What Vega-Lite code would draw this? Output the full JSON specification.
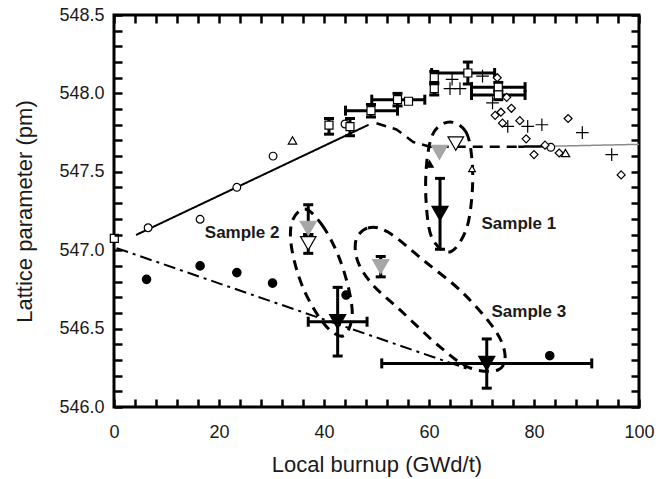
{
  "$schema": "https://vega.github.io/schema/vega-lite/v6.json",
  "width": 525,
  "height": 392,
  "autosize": {"type": "none"},
  "padding": {"left": 114, "top": 15, "right": 33, "bottom": 72},
  "background": "white",
  "config": {
    "view": {"stroke": "black", "strokeWidth": 3},
    "axis": {
      "domainColor": "black", "domainWidth": 3, "grid": false, "labelFlush": false,
      "labelFont": "Liberation Sans", "labelFontSize": 18, "labelColor": "#1a1a1a",
      "titleFont": "Liberation Sans", "titleFontSize": 22, "titleFontWeight": "normal", "titleColor": "#1a1a1a"
    }
  },
  "datasets": {
    "lines": [
      {"line": "solid", "x": 4.2, "y": 547.097},
      {"line": "solid", "x": 48.5, "y": 547.80},
      {"line": "dashed", "x": 50.0, "y": 547.81},
      {"line": "dashed", "x": 53.8, "y": 547.77},
      {"line": "dashed", "x": 57.0, "y": 547.69},
      {"line": "dashed", "x": 60.2, "y": 547.66},
      {"line": "dashed", "x": 77.0, "y": 547.66},
      {"line": "solidb", "x": 77.0, "y": 547.66},
      {"line": "solidb", "x": 83.0, "y": 547.663},
      {"line": "gray", "x": 83.0, "y": 547.663},
      {"line": "gray", "x": 100.0, "y": 547.675},
      {"line": "dashdot", "x": 0.5, "y": 547.013},
      {"line": "dashdot", "x": 68.0, "y": 546.236}
    ],
    "ellipses": [
      {"e": "s1", "i": 0, "x": 64.0, "y": 547.818},
      {"e": "s1", "i": 1, "x": 67.05, "y": 547.754},
      {"e": "s1", "i": 2, "x": 68.19, "y": 547.576},
      {"e": "s1", "i": 3, "x": 68.19, "y": 547.352},
      {"e": "s1", "i": 4, "x": 67.05, "y": 547.129},
      {"e": "s1", "i": 5, "x": 64.0, "y": 546.989},
      {"e": "s1", "i": 6, "x": 60.57, "y": 547.078},
      {"e": "s1", "i": 7, "x": 59.43, "y": 547.32},
      {"e": "s1", "i": 8, "x": 59.62, "y": 547.575},
      {"e": "s1", "i": 9, "x": 60.95, "y": 547.754},
      {"e": "s2", "i": 0, "x": 36.38, "y": 547.263},
      {"e": "s2", "i": 1, "x": 39.62, "y": 547.161},
      {"e": "s2", "i": 2, "x": 42.67, "y": 546.97},
      {"e": "s2", "i": 3, "x": 44.76, "y": 546.746},
      {"e": "s2", "i": 4, "x": 45.33, "y": 546.568},
      {"e": "s2", "i": 5, "x": 43.62, "y": 546.453},
      {"e": "s2", "i": 6, "x": 40.19, "y": 546.523},
      {"e": "s2", "i": 7, "x": 36.19, "y": 546.746},
      {"e": "s2", "i": 8, "x": 33.9, "y": 547.001},
      {"e": "s2", "i": 9, "x": 33.9, "y": 547.18},
      {"e": "s3", "i": 0, "x": 46.1, "y": 547.065},
      {"e": "s3", "i": 1, "x": 48.38, "y": 547.142},
      {"e": "s3", "i": 2, "x": 52.19, "y": 547.116},
      {"e": "s3", "i": 3, "x": 58.86, "y": 546.938},
      {"e": "s3", "i": 4, "x": 66.48, "y": 546.727},
      {"e": "s3", "i": 5, "x": 72.57, "y": 546.491},
      {"e": "s3", "i": 6, "x": 74.48, "y": 546.332},
      {"e": "s3", "i": 7, "x": 73.14, "y": 546.236},
      {"e": "s3", "i": 8, "x": 67.81, "y": 546.249},
      {"e": "s3", "i": 9, "x": 62.1, "y": 546.383},
      {"e": "s3", "i": 10, "x": 54.48, "y": 546.619},
      {"e": "s3", "i": 11, "x": 49.33, "y": 546.778},
      {"e": "s3", "i": 12, "x": 46.48, "y": 546.925}
    ],
    "ye": [
      {"x": 40.95, "lo": 547.74, "hi": 547.84},
      {"x": 44.95, "lo": 547.73, "hi": 547.84},
      {"x": 48.95, "lo": 547.85, "hi": 547.93},
      {"x": 54.0, "lo": 547.92, "hi": 548.0},
      {"x": 61.0, "lo": 548.06, "hi": 548.14},
      {"x": 61.0, "lo": 547.99, "hi": 548.07},
      {"x": 67.4, "lo": 548.06, "hi": 548.2},
      {"x": 73.2, "lo": 548.01, "hi": 548.07},
      {"x": 73.2, "lo": 547.96, "hi": 548.02},
      {"x": 42.6, "lo": 546.325, "hi": 546.763},
      {"x": 71.0, "lo": 546.12, "hi": 546.434},
      {"x": 62.1, "lo": 547.006, "hi": 547.458},
      {"x": 37.0, "lo": 547.1, "hi": 547.29},
      {"x": 37.0, "lo": 546.98, "hi": 547.1},
      {"x": 50.8, "lo": 546.83, "hi": 546.96}
    ],
    "xe": [
      {"y": 547.89, "lo": 44.1, "hi": 54.0},
      {"y": 547.96, "lo": 49.1, "hi": 59.2},
      {"y": 548.13, "lo": 60.5, "hi": 72.5},
      {"y": 548.04, "lo": 68.1, "hi": 78.3},
      {"y": 547.99, "lo": 68.1, "hi": 78.3},
      {"y": 546.544, "lo": 37.0, "hi": 48.2},
      {"y": 546.278, "lo": 51.0, "hi": 91.0}
    ],
    "points": [
      {"type": "circle_open", "x": 6.5, "y": 547.143},
      {"type": "circle_open", "x": 16.4, "y": 547.197},
      {"type": "circle_open", "x": 23.4, "y": 547.401},
      {"type": "circle_open", "x": 30.3, "y": 547.6},
      {"type": "circle_open", "x": 44.0, "y": 547.805},
      {"type": "circle_open", "x": 83.2, "y": 547.656},
      {"type": "tri_open", "x": 34.0, "y": 547.7},
      {"type": "tri_open", "x": 86.0, "y": 547.62},
      {"type": "arrow_open", "x": 68.2, "y": 547.52},
      {"type": "arrow_black", "x": 60.1, "y": 547.55},
      {"type": "square_open", "x": 0.06, "y": 547.076},
      {"type": "square_open", "x": 40.95, "y": 547.798},
      {"type": "square_open", "x": 44.95, "y": 547.788},
      {"type": "square_open", "x": 48.95, "y": 547.89},
      {"type": "square_open", "x": 54.0, "y": 547.96},
      {"type": "square_open", "x": 56.1, "y": 547.95},
      {"type": "square_open", "x": 61.0, "y": 548.1},
      {"type": "square_open", "x": 61.0, "y": 548.03},
      {"type": "square_open", "x": 67.4, "y": 548.13},
      {"type": "square_open", "x": 73.2, "y": 548.04},
      {"type": "square_open", "x": 73.2, "y": 547.99},
      {"type": "diamond_open", "x": 73.0, "y": 548.1},
      {"type": "diamond_open", "x": 74.8, "y": 547.975},
      {"type": "diamond_open", "x": 75.7, "y": 547.905},
      {"type": "diamond_open", "x": 72.6, "y": 547.86},
      {"type": "diamond_open", "x": 73.7, "y": 547.88},
      {"type": "diamond_open", "x": 74.0, "y": 547.81},
      {"type": "diamond_open", "x": 77.3, "y": 547.826},
      {"type": "diamond_open", "x": 78.5, "y": 547.71},
      {"type": "diamond_open", "x": 86.5, "y": 547.84},
      {"type": "diamond_open", "x": 80.0, "y": 547.61},
      {"type": "diamond_open", "x": 82.1, "y": 547.67},
      {"type": "diamond_open", "x": 84.8, "y": 547.62},
      {"type": "diamond_open", "x": 96.6, "y": 547.48},
      {"type": "plus", "x": 64.4, "y": 548.09},
      {"type": "plus", "x": 64.0, "y": 548.03},
      {"type": "plus", "x": 65.9, "y": 548.03},
      {"type": "plus", "x": 70.2, "y": 548.11},
      {"type": "plus", "x": 72.1, "y": 547.94},
      {"type": "plus", "x": 75.0, "y": 547.79},
      {"type": "plus", "x": 78.8, "y": 547.79},
      {"type": "plus", "x": 81.5, "y": 547.8},
      {"type": "plus", "x": 89.2, "y": 547.75},
      {"type": "plus", "x": 94.8, "y": 547.61},
      {"type": "circle_filled", "x": 6.2, "y": 546.814},
      {"type": "circle_filled", "x": 16.4, "y": 546.9},
      {"type": "circle_filled", "x": 23.4, "y": 546.857},
      {"type": "circle_filled", "x": 30.2, "y": 546.79},
      {"type": "circle_filled", "x": 44.2, "y": 546.714},
      {"type": "circle_filled", "x": 83.0, "y": 546.327},
      {"type": "tri_down_black", "x": 42.6, "y": 546.544},
      {"type": "tri_down_black", "x": 71.0, "y": 546.278},
      {"type": "tri_down_black", "x": 62.1, "y": 547.235},
      {"type": "tri_down_gray", "x": 62.0, "y": 547.624},
      {"type": "tri_down_gray", "x": 37.0, "y": 547.14},
      {"type": "tri_down_gray", "x": 50.8, "y": 546.895},
      {"type": "tri_down_open", "x": 65.1, "y": 547.68},
      {"type": "tri_down_open", "x": 37.0, "y": 547.044}
    ],
    "labels": [
      {"x": 70.0, "y": 547.167, "label": "Sample 1"},
      {"x": 17.3, "y": 547.108, "label": "Sample 2"},
      {"x": 71.9, "y": 546.608, "label": "Sample 3"}
    ]
  },
  "resolve": {"axis": {"x": "independent", "y": "independent"}},
  "layer": [
    {
      "data": {"name": "lines"},
      "mark": {"type": "line"},
      "encoding": {
        "x": {"field": "x", "type": "quantitative", "scale": {"domain": [0, 100], "nice": false, "zero": false},
          "axis": {"orient": "bottom", "offset": -8, "zindex": 2, "values": [0, 4, 8, 12, 16, 20, 24, 28, 32, 36, 40, 44, 48, 52, 56, 60, 64, 68, 72, 76, 80, 84, 88, 92, 96, 100], "labelExpr": "datum.value % 20 === 0 ? datum.label : ''", "ticks": true, "tickColor": "black", "tickSize": 8, "tickWidth": 2.5, "domain": false, "labelPadding": 16, "title": "Local burnup (GWd/t)", "titlePadding": 13}},
        "y": {"field": "y", "type": "quantitative", "scale": {"domain": [546, 548.5], "nice": false, "zero": false},
          "axis": {"orient": "left", "offset": -8, "zindex": 2, "values": [546, 546.1, 546.2, 546.3, 546.4, 546.5, 546.6, 546.7, 546.8, 546.9, 547, 547.1, 547.2, 547.3, 547.4, 547.5, 547.6, 547.7, 547.8, 547.9, 548, 548.1, 548.2, 548.3, 548.4, 548.5], "format": ".1f", "labelExpr": "abs(datum.value * 2 - round(datum.value * 2)) < 0.001 ? datum.label : ''", "ticks": true, "tickColor": "black", "tickSize": 8, "tickWidth": 2.5, "domain": false, "labelPadding": 10, "title": "Lattice parameter (pm)", "titlePadding": 22}},
        "detail": {"field": "line"},
        "color": {"field": "line", "type": "nominal", "legend": null, "scale": {"domain": ["solid", "dashed", "solidb", "gray", "dashdot"], "range": ["black", "black", "black", "#8a8a8a", "black"]}},
        "strokeDash": {"field": "line", "type": "nominal", "legend": null, "scale": {"domain": ["solid", "dashed", "solidb", "gray", "dashdot"], "range": [[1, 0], [10, 7], [1, 0], [1, 0], [12, 5, 3, 5]]}},
        "strokeWidth": {"field": "line", "type": "nominal", "legend": null, "scale": {"type": "ordinal", "domain": ["solid", "dashed", "solidb", "gray", "dashdot"], "range": [2, 2.5, 2.5, 1.5, 2]}}
      }
    },
    {
      "data": {"name": "ellipses"},
      "mark": {"type": "line", "interpolate": "cardinal-closed", "strokeDash": [10, 7], "strokeWidth": 3, "color": "black"},
      "encoding": {
        "x": {"field": "x", "type": "quantitative", "axis": {"orient": "top", "offset": -8, "zindex": 2, "values": [0, 4, 8, 12, 16, 20, 24, 28, 32, 36, 40, 44, 48, 52, 56, 60, 64, 68, 72, 76, 80, 84, 88, 92, 96, 100], "ticks": true, "tickColor": "black", "tickSize": 8, "tickWidth": 2.5, "labels": true, "labelOpacity": 0, "domain": false, "title": null}},
        "y": {"field": "y", "type": "quantitative", "axis": {"orient": "right", "offset": -8, "zindex": 2, "values": [546, 546.1, 546.2, 546.3, 546.4, 546.5, 546.6, 546.7, 546.8, 546.9, 547, 547.1, 547.2, 547.3, 547.4, 547.5, 547.6, 547.7, 547.8, 547.9, 548, 548.1, 548.2, 548.3, 548.4, 548.5], "ticks": true, "tickColor": "black", "tickSize": 8, "tickWidth": 2.5, "labels": true, "labelOpacity": 0, "domain": false, "title": null}},
        "detail": {"field": "e"},
        "order": {"field": "i", "type": "quantitative"}
      }
    },
    {
      "data": {"name": "ye"},
      "mark": {"type": "rule", "strokeWidth": 3, "color": "black"},
      "encoding": {
        "x": {"field": "x", "type": "quantitative", "axis": null},
        "y": {"field": "lo", "type": "quantitative", "axis": null},
        "y2": {"field": "hi"}
      }
    },
    {
      "data": {"name": "ye"},
      "mark": {"type": "tick", "orient": "horizontal", "thickness": 3, "size": 10, "color": "black", "opacity": 1},
      "encoding": {
        "x": {"field": "x", "type": "quantitative", "axis": null},
        "y": {"field": "lo", "type": "quantitative", "axis": null}
      }
    },
    {
      "data": {"name": "ye"},
      "mark": {"type": "tick", "orient": "horizontal", "thickness": 3, "size": 10, "color": "black", "opacity": 1},
      "encoding": {
        "x": {"field": "x", "type": "quantitative", "axis": null},
        "y": {"field": "hi", "type": "quantitative", "axis": null}
      }
    },
    {
      "data": {"name": "xe"},
      "mark": {"type": "rule", "strokeWidth": 3, "color": "black"},
      "encoding": {
        "x": {"field": "lo", "type": "quantitative", "axis": null},
        "x2": {"field": "hi"},
        "y": {"field": "y", "type": "quantitative", "axis": null}
      }
    },
    {
      "data": {"name": "xe"},
      "mark": {"type": "tick", "orient": "vertical", "thickness": 3, "size": 10, "color": "black", "opacity": 1},
      "encoding": {
        "x": {"field": "lo", "type": "quantitative", "axis": null},
        "y": {"field": "y", "type": "quantitative", "axis": null}
      }
    },
    {
      "data": {"name": "xe"},
      "mark": {"type": "tick", "orient": "vertical", "thickness": 3, "size": 10, "color": "black", "opacity": 1},
      "encoding": {
        "x": {"field": "hi", "type": "quantitative", "axis": null},
        "y": {"field": "y", "type": "quantitative", "axis": null}
      }
    },
    {
      "data": {"name": "points"},
      "mark": {"type": "point", "opacity": 1, "strokeWidth": 1.2},
      "encoding": {
        "x": {"field": "x", "type": "quantitative", "axis": null},
        "y": {"field": "y", "type": "quantitative", "axis": null},
        "shape": {"field": "type", "type": "nominal", "legend": null, "scale": {
          "domain": ["circle_open", "tri_open", "arrow_open", "arrow_black", "square_open", "diamond_open", "plus", "circle_filled", "tri_down_black", "tri_down_gray", "tri_down_open"],
          "range": ["circle", "triangle-up", "triangle-up", "triangle-up", "square", "diamond", "M-1,0H1M0,-1V1", "circle", "triangle-down", "triangle-down", "triangle-down"]}},
        "fill": {"field": "type", "type": "nominal", "legend": null, "scale": {
          "domain": ["circle_open", "tri_open", "arrow_open", "arrow_black", "square_open", "diamond_open", "plus", "circle_filled", "tri_down_black", "tri_down_gray", "tri_down_open"],
          "range": ["white", "white", "white", "black", "white", "white", "transparent", "black", "black", "#a6a6a6", "white"]}},
        "stroke": {"field": "type", "type": "nominal", "legend": null, "scale": {
          "domain": ["circle_open", "tri_open", "arrow_open", "arrow_black", "square_open", "diamond_open", "plus", "circle_filled", "tri_down_black", "tri_down_gray", "tri_down_open"],
          "range": ["black", "black", "black", "black", "black", "black", "black", "black", "black", "#a6a6a6", "black"]}},
        "size": {"field": "type", "type": "nominal", "legend": null, "scale": {"type": "ordinal",
          "domain": ["circle_open", "tri_open", "arrow_open", "arrow_black", "square_open", "diamond_open", "plus", "circle_filled", "tri_down_black", "tri_down_gray", "tri_down_open"],
          "range": [60, 70, 45, 55, 64, 64, 160, 70, 260, 260, 240]}}
      }
    },
    {
      "data": {"name": "labels"},
      "mark": {"type": "text", "align": "left", "baseline": "middle", "fontWeight": "bold", "fontSize": 17, "font": "Liberation Sans", "color": "#1a1a1a"},
      "encoding": {
        "x": {"field": "x", "type": "quantitative", "axis": null},
        "y": {"field": "y", "type": "quantitative", "axis": null},
        "text": {"field": "label"}
      }
    }
  ]
}
